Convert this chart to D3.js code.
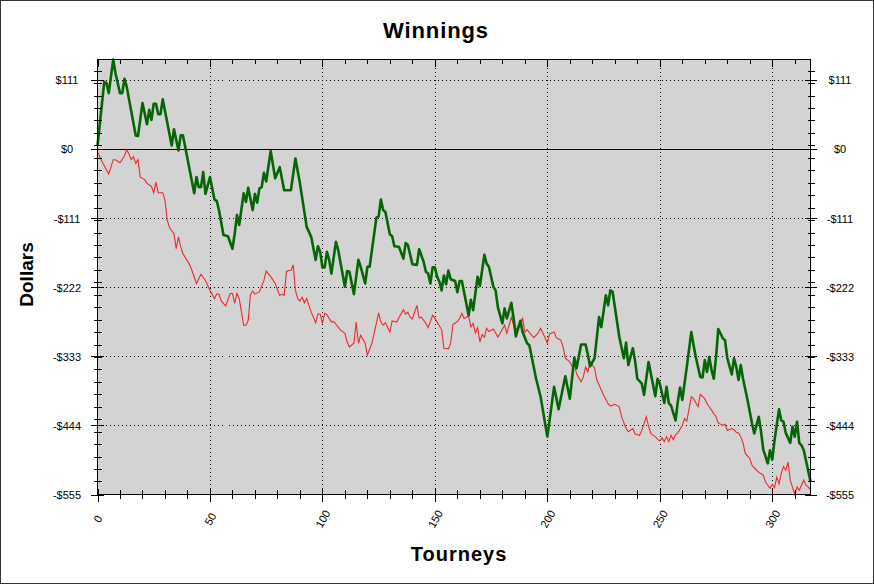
<!DOCTYPE html>
<html><head><meta charset="utf-8">
<script src="https://cdn.jsdelivr.net/npm/d3@7"></script>
<style>
body{margin:0;background:#fff}
svg{display:block}
text{font-family:Arial,"Liberation Sans",sans-serif;fill:#000}
</style>
</head><body>
<svg id="c" width="874" height="584"></svg>
<script>
// ---- data ----
const greenTourney = [0,3,4,5,7,8,10,11,12,13,17,18,20,22,23,24,25,26,27,28,29,33,34,36,37,38,43,44,45,46,47,48,50,52,53,54,56,58,60,61,62,63,65,66,67,69,70,71,72,73,74,75,77,79,81,83,86,88,90,93,95,97,98,99,100,101,102,103,104,106,107,110,111,112,114,116,117,119,120,121,124,125,126,127,128,130,131,132,134,136,137,138,140,142,143,145,146,147,148,149,150,151,152,153,154,155,156,157,159,160,161,162,165,166,167,169,170,172,173,174,176,177,178,180,181,182,184,185,186,188,189,191,192,195,197,200,203,205,208,210,212,213,215,217,218,219,221,223,224,226,227,228,229,232,234,235,236,238,239,240,242,243,245,248,249,250,252,253,254,255,257,258,259,260,262,264,265,266,268,269,270,271,272,273,274,275,276,278,279,280,282,283,284,285,286,287,289,291,292,294,295,296,298,299,300,301,303,304,305,306,308,309,310,311,312,313,314,317];
const greenDollars = [5,108,106,90,144,122,90,90,113,100,22,21,74,40,63,47,73,73,56,56,80,6,32,-2,22,22,-71,-45,-61,-61,-37,-72,-45,-81,-83,-98,-138,-140,-160,-136,-106,-122,-71,-85,-62,-98,-72,-86,-63,-61,-38,-52,-3,-47,-29,-66,-66,-15,-55,-125,-141,-178,-156,-165,-190,-190,-165,-178,-200,-149,-162,-221,-196,-197,-233,-178,-189,-216,-189,-189,-110,-108,-81,-98,-101,-137,-140,-156,-157,-176,-151,-154,-185,-186,-161,-181,-197,-200,-216,-190,-190,-205,-213,-227,-203,-217,-195,-209,-212,-230,-212,-212,-267,-242,-259,-205,-220,-170,-184,-189,-221,-227,-254,-280,-256,-272,-247,-272,-301,-276,-294,-312,-315,-369,-398,-462,-382,-418,-365,-401,-335,-352,-314,-314,-330,-349,-336,-270,-286,-235,-251,-227,-229,-302,-336,-311,-347,-320,-340,-369,-377,-395,-342,-397,-369,-377,-408,-382,-408,-412,-436,-406,-383,-403,-350,-294,-315,-334,-366,-367,-339,-358,-334,-355,-369,-334,-289,-304,-307,-336,-362,-336,-350,-371,-347,-369,-403,-441,-457,-430,-454,-483,-505,-484,-499,-468,-418,-436,-438,-456,-472,-446,-462,-438,-472,-476,-484,-534];

const redTourney = [0,2,5,7,8,10,12,13,14,15,16,17,18,19,21,22,24,25,26,27,29,30,31,32,34,35,36,37,38,41,42,44,46,48,50,52,53,54,55,57,59,60,61,62,63,65,66,67,68,69,70,72,74,75,77,79,81,82,83,84,85,86,87,88,89,90,91,92,93,95,97,98,99,100,101,102,104,105,107,108,110,111,112,114,115,116,117,119,120,122,123,125,126,127,128,130,131,133,134,136,137,138,139,140,142,143,144,146,147,149,150,151,153,154,156,157,158,160,161,162,163,165,166,167,168,169,170,171,172,173,174,176,178,179,181,182,184,185,186,188,189,190,191,193,194,196,197,199,200,201,203,204,206,207,208,210,211,212,213,215,216,217,218,219,221,222,224,225,227,228,230,232,233,235,236,238,239,241,242,244,245,246,247,248,249,250,251,252,253,254,255,256,257,258,260,261,262,264,265,267,268,270,271,272,274,275,276,278,279,280,282,283,284,285,286,287,288,290,291,293,294,296,297,299,300,301,302,303,304,305,306,307,308,310,311,312,313,314,315,316,317];
const redDollars = [-4,-20,-40,-17,-17,-22,-11,-1,-8,-17,-12,-23,-17,-45,-49,-55,-60,-70,-53,-70,-70,-82,-114,-126,-136,-160,-141,-157,-168,-186,-195,-216,-201,-211,-227,-240,-233,-233,-244,-252,-232,-232,-248,-232,-240,-283,-283,-275,-234,-228,-233,-229,-211,-196,-205,-216,-235,-233,-235,-197,-195,-195,-186,-227,-240,-244,-238,-247,-240,-262,-279,-265,-265,-280,-264,-266,-278,-277,-286,-291,-296,-310,-318,-312,-278,-312,-299,-312,-331,-312,-296,-263,-278,-283,-279,-294,-276,-278,-271,-258,-265,-262,-270,-273,-251,-271,-270,-280,-287,-267,-272,-278,-290,-320,-321,-312,-282,-277,-272,-264,-272,-268,-286,-280,-295,-287,-310,-298,-302,-288,-293,-289,-302,-296,-283,-296,-270,-283,-291,-278,-272,-294,-290,-299,-303,-295,-288,-303,-312,-297,-294,-303,-307,-318,-336,-342,-349,-345,-361,-374,-366,-350,-358,-342,-352,-371,-387,-395,-409,-413,-410,-414,-430,-449,-454,-449,-458,-460,-452,-430,-445,-457,-460,-462,-466,-469,-464,-470,-462,-470,-460,-467,-459,-456,-444,-433,-437,-398,-401,-414,-394,-401,-409,-414,-425,-430,-440,-444,-442,-452,-449,-451,-455,-456,-462,-472,-489,-497,-508,-516,-519,-524,-535,-545,-539,-544,-527,-538,-521,-510,-516,-503,-532,-555,-543,-548,-540,-532,-540,-543,-547];

const xMajorTicks = [0,50,100,150,200,250,300];
const xMinorTicks = d3.range(0, 318, 10);
const yMajorTicks = [111,0,-111,-222,-333,-444,-555];
const yMinorTicks = d3.range(-534, 145, 20);
const xDomain = [0, 317];
const yDomain = [-555, 144];
const titleText = "Winnings", xTitle = "Tourneys", yTitle = "Dollars";

// ---- layout ----
const L = 97.5, R = 810.5, T = 59.5, B = 494.5;
const svg = d3.select("#c");
const x = d3.scaleLinear().domain(xDomain).range([L, R]);
const y = d3.scaleLinear().domain(yDomain).range([B, T]);
const money = d => d < 0 ? "-$" + (-d) : "$" + d;

svg.append("rect").attr("x",0.5).attr("y",0.5).attr("width",873).attr("height",583)
  .attr("fill","#fff").attr("stroke","#333");

svg.append("rect").attr("x",L).attr("y",T).attr("width",R-L).attr("height",B-T).attr("fill","#d3d3d3");

// grid
const grid = svg.append("g").attr("stroke","#000").attr("stroke-dasharray","1,3").attr("shape-rendering","crispEdges");
grid.selectAll("line.gy").data(yMajorTicks.filter(v=>v!==0 && v!==yDomain[0])).join("line")
  .attr("x1",L).attr("x2",R).attr("y1",d=>Math.round(y(d))+0.5).attr("y2",d=>Math.round(y(d))+0.5);
grid.selectAll("line.gx").data(xMajorTicks.filter(v=>v!==0)).join("line")
  .attr("y1",T).attr("y2",B).attr("x1",d=>Math.round(x(d))+0.5).attr("x2",d=>Math.round(x(d))+0.5);

// zero line
svg.append("line").attr("x1",L).attr("x2",R).attr("y1",Math.round(y(0))+0.5).attr("y2",Math.round(y(0))+0.5)
  .attr("stroke","#000").attr("shape-rendering","crispEdges");

// series
const line = d3.line().x(d=>x(d[0])).y(d=>y(d[1]));
svg.append("path").datum(redTourney.map((t,i)=>[t,redDollars[i]]))
  .attr("d",line).attr("fill","none").attr("stroke","#ee2a2a").attr("stroke-width",1.1);
svg.append("path").datum(greenTourney.map((t,i)=>[t,greenDollars[i]]))
  .attr("d",line).attr("fill","none").attr("stroke","#056605").attr("stroke-width",2.6).attr("stroke-linejoin","round");

// frame
svg.append("rect").attr("x",L).attr("y",T).attr("width",R-L).attr("height",B-T)
  .attr("fill","none").attr("stroke","#000").attr("shape-rendering","crispEdges");

function style(g){ g.select(".domain").remove(); g.selectAll("line").attr("stroke","#000").attr("shape-rendering","crispEdges"); }

// bottom axis
const gb = svg.append("g").attr("transform",`translate(0,${B})`)
  .call(d3.axisBottom(x).tickValues(xMajorTicks).tickSize(7).tickFormat(d3.format("d"))).call(style);
gb.selectAll(".tick line").attr("y1",-6);
gb.selectAll(".tick text").attr("y",0).attr("dy","0.35em").attr("text-anchor","middle")
  .attr("transform","translate(0,24.5) rotate(-60)").style("font-size","11px").style("font-family","Arial, 'Liberation Sans', sans-serif");
const gbm = svg.append("g").attr("transform",`translate(0,${B})`)
  .call(d3.axisBottom(x).tickValues(xMinorTicks).tickSize(4.5).tickFormat("")).call(style);
gbm.selectAll(".tick line").attr("y1",-4.5);

// top axis (inward ticks)
svg.append("g").attr("transform",`translate(0,${T})`)
  .call(d3.axisTop(x).tickValues(xMajorTicks).tickSize(-7).tickFormat("")).call(style);
svg.append("g").attr("transform",`translate(0,${T})`)
  .call(d3.axisTop(x).tickValues(xMinorTicks).tickSize(-4.5).tickFormat("")).call(style);

// left axis
const gl = svg.append("g").attr("transform",`translate(${L},0)`)
  .call(d3.axisLeft(y).tickValues(yMajorTicks).tickSize(7).tickFormat(money)).call(style);
gl.selectAll(".tick line").attr("x1",6);
gl.selectAll(".tick text").attr("x",-30.5).attr("dy","0.35em").attr("text-anchor","middle")
  .style("font-size","11px").style("font-family","Arial, 'Liberation Sans', sans-serif");
const glm = svg.append("g").attr("transform",`translate(${L},0)`)
  .call(d3.axisLeft(y).tickValues(yMinorTicks).tickSize(4).tickFormat("")).call(style);
glm.selectAll(".tick line").attr("x1",4.5);

// right axis
const gr = svg.append("g").attr("transform",`translate(${R},0)`)
  .call(d3.axisRight(y).tickValues(yMajorTicks).tickSize(6).tickFormat(money)).call(style);
gr.selectAll(".tick line").attr("x1",-6);
gr.selectAll(".tick text").attr("x",29.5).attr("dy","0.35em").attr("text-anchor","middle")
  .style("font-size","11px").style("font-family","Arial, 'Liberation Sans', sans-serif");
const grm = svg.append("g").attr("transform",`translate(${R},0)`)
  .call(d3.axisRight(y).tickValues(yMinorTicks).tickSize(4.5).tickFormat("")).call(style);
grm.selectAll(".tick line").attr("x1",-3);

// titles
svg.append("text").attr("x",436).attr("y",38).attr("text-anchor","middle")
  .style("font-size","22px").style("font-weight","bold").style("letter-spacing","0.9px").text(titleText);
svg.append("text").attr("x",459).attr("y",561).attr("text-anchor","middle")
  .style("font-size","20px").style("font-weight","bold").style("letter-spacing","1px").text(xTitle);
svg.append("text").attr("transform","translate(33,274.5) rotate(-90)").attr("text-anchor","middle")
  .style("font-size","19px").style("font-weight","bold").text(yTitle);
</script>
</body></html>
